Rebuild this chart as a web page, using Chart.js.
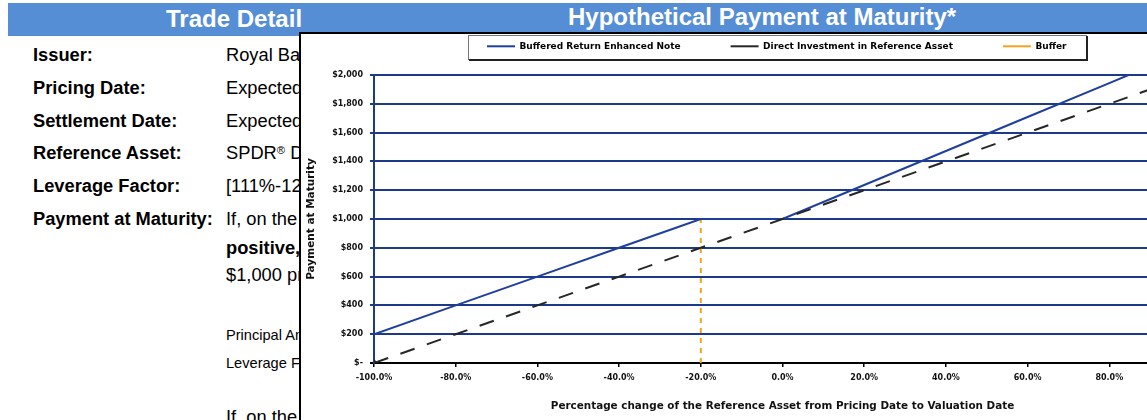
<!DOCTYPE html>
<html><head><meta charset="utf-8">
<script src="https://cdn.jsdelivr.net/npm/chart.js@4.4.1/dist/chart.umd.min.js"></script>
<style>
html,body{margin:0;padding:0;background:#fff;overflow:hidden;width:1147px;height:420px;}
body{position:relative;font-family:"Liberation Sans",Arial,sans-serif;color:#000;}
.bar{position:absolute;left:8px;top:3px;width:1139px;height:33px;background:#558ed5;}
.h{position:absolute;font-weight:bold;font-size:24px;line-height:1;color:#fff;white-space:nowrap;}
.t{position:absolute;font-size:18.3px;line-height:1;white-space:nowrap;}
.b{font-weight:bold;}
.s{font-size:14.6px;}
.reg{font-size:0.62em;vertical-align:0.45em;line-height:0;}
#wrap{position:absolute;left:299px;top:32px;width:900px;height:395px;border-left:2px solid #000;border-top:2px solid #000;background:#fff;}
#c{display:block;width:900px;height:395px;}
</style></head>
<body>
<div class="bar"></div>
<div class="h" style="left:166px;top:7px">Trade Detail</div>
<div class="h" style="left:568px;top:5.4px">Hypothetical Payment at Maturity*</div>

<div class="t b" style="left:33px;top:46px">Issuer:</div>
<div class="t b" style="left:33px;top:79px">Pricing Date:</div>
<div class="t b" style="left:33px;top:111.5px">Settlement Date:</div>
<div class="t b" style="left:33px;top:143.5px">Reference Asset:</div>
<div class="t b" style="left:33px;top:176.5px">Leverage Factor:</div>
<div class="t b" style="left:33px;top:210px">Payment at Maturity:</div>

<div class="t" style="left:226px;top:46px">Royal Bank of Canada</div>
<div class="t" style="left:226px;top:79px">Expected to be</div>
<div class="t" style="left:226px;top:111.5px">Expected to be</div>
<div class="t" style="left:226px;top:143.5px">SPDR<span class="reg">®</span> Dow Jones Industrial Average ETF Trust</div>
<div class="t" style="left:226px;top:176.5px">[111%-121%]</div>
<div class="t" style="left:226px;top:210px">If, on the Valuation Date, the Percentage Change is</div>
<div class="t" style="left:226px;top:238.8px"><b>positive,</b> then the investor will receive an amount per</div>
<div class="t" style="left:226px;top:266.2px">$1,000 principal amount equal to:</div>
<div class="t s" style="left:226px;top:327.6px">Principal Amount + (Principal Amount x Percentage Change x</div>
<div class="t s" style="left:226px;top:355.9px">Leverage Factor)</div>
<div class="t" style="left:226px;top:407.5px">If, on the Valuation Date, the Percentage Change is</div>

<div id="wrap"><canvas id="c" width="900" height="395"></canvas></div>

<script>
// ---- data ----
const xTickValues = [-100, -80, -60, -40, -20, 0, 20, 40, 60, 80, 100];
const xTickLabels = ['-100.0%', '-80.0%', '-60.0%', '-40.0%', '-20.0%', '0.0%', '20.0%', '40.0%', '60.0%', '80.0%', '100.0%'];
const yTickValues = [0, 200, 400, 600, 800, 1000, 1200, 1400, 1600, 1800, 2000];
const yTickLabels = ['$-', '$200', '$400', '$600', '$800', '$1,000', '$1,200', '$1,400', '$1,600', '$1,800', '$2,000'];
const seriesNames = ['Buffered Return Enhanced Note', 'Direct Investment in Reference Asset', 'Buffer'];
const noteChange = [-100, -80, -60, -40, -20, 0, 20, 40, 60, 80, 84.7];
const notePayment = [200, 400, 600, 800, 1000, 1000, 1236, 1472, 1708, 1944, 2000];
const directChange = [-100, -80, -60, -40, -20, 0, 20, 40, 60, 80, 100];
const directPayment = [0, 200, 400, 600, 800, 1000, 1200, 1400, 1600, 1800, 2000];
const bufferChange = [-20, -20];
const bufferPayment = [0, 1000];
const xTitle = 'Percentage change of the Reference Asset from Pricing Date to Valuation Date';
const yTitle = 'Payment at Maturity';

const pts = (xs, ys) => xs.map((x, i) => ({x: x, y: ys[i]}));

Chart.defaults.font.family = '"DejaVu Sans", "Liberation Sans", sans-serif';

const NAVY = '#1d3a8a';

const legendFrame = {
  id: 'legendFrame',
  afterLayout(chart) {
    const lg = chart.legend;
    if (!lg) return;
    const P = chart.options.plugins.legend.labels.padding;
    lg.left = 186 - P;
    lg.right = 2000;
    lg.top = 12.3 - P - 4.5;
    lg.bottom = 30;
  },
  beforeDraw(chart) {
    const ctx = chart.ctx;
    ctx.save();
    ctx.fillStyle = '#fff';
    ctx.fillRect(167, 1, 618, 24);
    ctx.strokeStyle = '#777';
    ctx.lineWidth = 1;
    ctx.strokeRect(167.5, 1.5, 618, 24);
    ctx.fillStyle = '#222';
    ctx.fillRect(168, 25, 619, 2);
    ctx.fillRect(785, 2, 2, 25);
    ctx.restore();
  }
};

new Chart(document.getElementById('c'), {
  type: 'line',
  data: {
    datasets: [
      {label: seriesNames[0], data: pts(noteChange, notePayment), borderColor: '#1f3f9e', backgroundColor: '#1f3f9e', borderWidth: 2, pointRadius: 0, order: 1},
      {label: seriesNames[1], data: pts(directChange, directPayment), borderColor: '#262626', backgroundColor: '#262626', borderWidth: 2, borderDash: [15, 13], pointStyle: 'rectRot', pointRadius: c => c.dataIndex === 0 ? 2.5 : 0, order: 0},
      {label: seriesNames[2], data: pts(bufferChange, bufferPayment), borderColor: '#f5a21e', backgroundColor: '#f5a21e', borderWidth: 2, borderDash: [5, 5], pointRadius: 0, order: 2}
    ]
  },
  options: {
    responsive: false,
    animation: false,
    events: [],
    layout: {padding: {left: 0, top: 11, right: 10, bottom: 16}},
    plugins: {
      tooltip: {enabled: false},
      legend: {
        display: true,
        position: 'top',
        align: 'start',
        maxHeight: 30,
        labels: {
          usePointStyle: true,
          pointStyle: 'line',
          pointStyleWidth: 28,
          padding: 50,
          color: '#000',
          font: {size: 9, weight: 'bold'},
          sort: (a, b) => a.datasetIndex - b.datasetIndex
        }
      }
    },
    scales: {
      x: {
        type: 'linear',
        min: -100,
        max: 100,
        afterFit(s) { s.height = 50; s.paddingLeft = 0; s.paddingRight = 0; },
        ticks: {
          stepSize: 20, autoSkip: false, maxRotation: 0, padding: 6,
          color: '#111', font: {size: 8, weight: 'bold'},
          callback: v => { const i = xTickValues.indexOf(v); return i < 0 ? '' : xTickLabels[i]; }
        },
        grid: {drawOnChartArea: false, drawTicks: true, tickLength: 4, color: '#000', lineWidth: 1.5},
        border: {color: '#000', width: 2},
        title: {display: true, text: xTitle, color: '#111', font: {size: 10.4, weight: 'bold'}, padding: {top: 0, bottom: 0}}
      },
      y: {
        min: 0,
        max: 2000,
        afterFit(s) { s.width = 73; },
        ticks: {
          stepSize: 200, padding: 7,
          color: '#111', font: {size: 8, weight: 'bold'},
          callback: v => { const i = yTickValues.indexOf(v); return i < 0 ? '' : yTickLabels[i]; }
        },
        grid: {color: c => (c.tick && c.tick.value === 0) ? '#000' : NAVY, lineWidth: 2, tickLength: 4, drawTicks: true},
        border: {color: NAVY, width: 2},
        title: {display: true, text: yTitle, color: '#111', font: {size: 10.5, weight: 'bold'}, padding: {top: 4, bottom: 0}}
      }
    }
  },
  plugins: [legendFrame]
});
</script>
</body></html>
